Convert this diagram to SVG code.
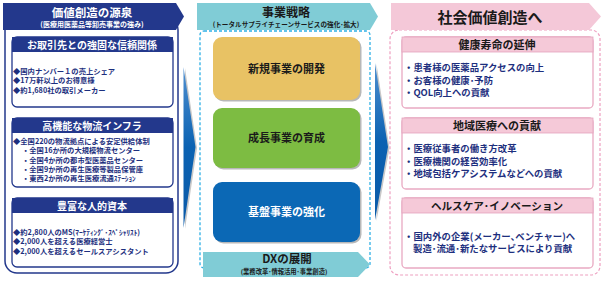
<svg xmlns="http://www.w3.org/2000/svg" width="604" height="285" viewBox="0 0 604 285">
<defs>
<style>
text{font-family:"Noto Sans CJK JP","Noto Sans",sans-serif;font-weight:700}
.wt{fill:#fff}
.nv{fill:#1d2f7e}
.dk{fill:#1a1a1a}
.c{text-anchor:middle}
.sm{font-size:7.3px}
.md{font-size:9.4px}
.navybox{fill:#fff;stroke:#23388c;stroke-width:1.3}
.navybar{fill:#23388c}
.pinkbox{fill:#fff;stroke:#e9a9c2;stroke-width:1.3}
.pinkbar{fill:#f5c9d8;stroke:#e3a3bd;stroke-width:0.8}
.shadow{fill:#b8b8b8}
</style>
<linearGradient id="arr" x1="0" y1="0" x2="0" y2="1">
<stop offset="0" stop-color="#4f8fd0"/>
<stop offset="0.5" stop-color="#0b62b2"/>
<stop offset="1" stop-color="#0b5aa8"/>
</linearGradient>
</defs>

<!-- Left column -->
<g id="left-column">
<rect x="5" y="18" width="173" height="255" rx="12" fill="#fff" stroke="#23388c" stroke-width="1.5"/>
<polygon points="3,3 176,3 184,16.5 176,30 3,30" fill="#23388c"/>
<text x="92" y="16.5" class="wt c" font-size="11.5">価値創造の源泉</text>
<text x="92" y="26.5" class="wt c" font-size="7">(医療用医薬品等卸売事業の強み)</text>
</g>

<g id="left-box1">
<rect x="12" y="37" width="161" height="70" rx="5" class="navybox"/>
<rect x="12" y="37" width="161" height="15" class="navybar"/>
<text x="92" y="48.5" class="wt c" font-size="10">お取引先との強固な信頼関係</text>
<text x="13" y="73.5" class="nv sm">◆国内ナンバー１の売上シェア</text>
<text x="13" y="83" class="nv sm">◆17万軒以上のお得意様</text>
<text x="13" y="92.5" class="nv sm">◆約1,680社の取引メーカー</text>
</g>

<g id="left-box2">
<rect x="12" y="118" width="161" height="69" rx="5" class="navybox"/>
<rect x="12" y="118" width="161" height="15" class="navybar"/>
<text x="92" y="129.5" class="wt c" font-size="10">高機能な物流インフラ</text>
<text x="13" y="144" class="nv sm">◆全国220の物流拠点による安定供給体制</text>
<text x="22" y="153.3" class="nv sm">・全国16か所の大規模物流センター</text>
<text x="22" y="162.6" class="nv sm">・全国4か所の都市型医薬品センター</text>
<text x="22" y="171.9" class="nv sm">・全国9か所の再生医療等製品保管庫</text>
<text x="22" y="181.2" class="nv sm">・東西2か所の再生医療流通ｽﾃｰｼｮﾝ</text>
</g>

<g id="left-box3">
<rect x="12" y="198" width="161" height="69" rx="5" class="navybox"/>
<rect x="12" y="198" width="161" height="15" class="navybar"/>
<text x="92" y="209.5" class="wt c" font-size="10">豊富な人的資本</text>
<text x="13" y="234.5" class="nv sm">◆約2,800人のMS(ﾏｰｹﾃｨﾝｸﾞ･ｽﾍﾟｼｬﾘｽﾄ)</text>
<text x="13" y="244" class="nv sm">◆2,000人を超える医療経営士</text>
<text x="13" y="253.5" class="nv sm">◆2,000人を超えるセールスアシスタント</text>
</g>

<!-- Middle column -->
<g id="middle-column">
<rect x="200" y="31" width="170" height="237" rx="4" fill="none" stroke="#2fb0e6" stroke-width="1.3" stroke-dasharray="3,2"/>
<polygon points="197,3 370,3 378,16.5 370,30 197,30" fill="#80ccd6"/>
<text x="286" y="17" class="dk c" font-size="12">事業戦略</text>
<text x="286" y="26.5" class="dk c" font-size="6.6">(トータルサプライチェーンサービスの強化･拡大)</text>
</g>

<g id="node-new">
<rect x="214.5" y="38.5" width="147" height="63" rx="9" class="shadow"/>
<rect x="213" y="37" width="147" height="63" rx="9" fill="#e8c264"/>
<text x="286.5" y="72.5" class="dk c" font-size="11">新規事業の開発</text>
</g>

<g id="node-growth">
<rect x="214.5" y="109.5" width="147" height="60" rx="9" class="shadow"/>
<rect x="213" y="108" width="147" height="60" rx="9" fill="#7dbc42"/>
<text x="286.5" y="142" class="dk c" font-size="11">成長事業の育成</text>
</g>

<g id="node-base">
<rect x="214.5" y="183.5" width="147" height="60" rx="9" class="shadow"/>
<rect x="213" y="182" width="147" height="60" rx="9" fill="#0b68b5"/>
<text x="286.5" y="216" class="wt c" font-size="11">基盤事業の強化</text>
</g>

<g id="node-dx">
<polygon points="203,252 358,252 370,264.5 358,277 203,277" fill="#80ccd6"/>
<text x="287" y="263" class="dk c" font-size="11.5">DXの展開</text>
<text x="284" y="273.5" class="dk c" font-size="6.3">(業務改革･情報活用･事業創造)</text>
</g>

<!-- Right column -->
<g id="right-column">
<rect x="390" y="30" width="210" height="245" rx="9" fill="none" stroke="#ee9fc0" stroke-width="1.2" stroke-dasharray="3,2"/>
<polygon points="391,3 589,3 601,16.5 589,30 391,30" fill="#f4c8d8"/>
<text x="490" y="22.5" class="dk c" font-size="15">社会価値創造へ</text>
</g>

<g id="right-box1">
<rect x="402" y="37" width="191" height="71" rx="4" class="pinkbox"/>
<rect x="402" y="37" width="191" height="15" class="pinkbar"/>
<text x="497" y="48.5" class="dk c" font-size="11">健康寿命の延伸</text>
<text x="404" y="71" class="nv md">・患者様の医薬品アクセスの向上</text>
<text x="404" y="83.5" class="nv md">・お客様の健康･予防</text>
<text x="404" y="96" class="nv md">・QOL向上への貢献</text>
</g>

<g id="right-box2">
<rect x="402" y="118" width="191" height="71" rx="4" class="pinkbox"/>
<rect x="402" y="118" width="191" height="15" class="pinkbar"/>
<text x="497" y="129.5" class="dk c" font-size="11">地域医療への貢献</text>
<text x="404" y="152" class="nv md">・医療従事者の働き方改革</text>
<text x="404" y="164.5" class="nv md">・医療機関の経営効率化</text>
<text x="404" y="177" class="nv md">・地域包括ケアシステムなどへの貢献</text>
</g>

<g id="right-box3">
<rect x="402" y="198" width="191" height="70" rx="4" class="pinkbox"/>
<rect x="402" y="198" width="191" height="15" class="pinkbar"/>
<text x="497" y="209.5" class="dk c" font-size="10.6">ヘルスケア･イノベーション</text>
<text x="404" y="239.5" class="nv md">・国内外の企業(メーカー､ベンチャー)へ</text>
<text x="413" y="252" class="nv md">製造･流通･新たなサービスにより貢献</text>
</g>

<!-- Connectors -->
<g id="connectors">
<polygon points="185,68 197,148 185,229" fill="#c8c8c8"/>
<polygon points="183.5,67 195.5,147 183.5,228" fill="url(#arr)"/>
<polygon points="376.5,64 389.5,148 376.5,221" fill="#c8c8c8"/>
<polygon points="375,63 388,147 375,220" fill="url(#arr)"/>
</g>
</svg>
